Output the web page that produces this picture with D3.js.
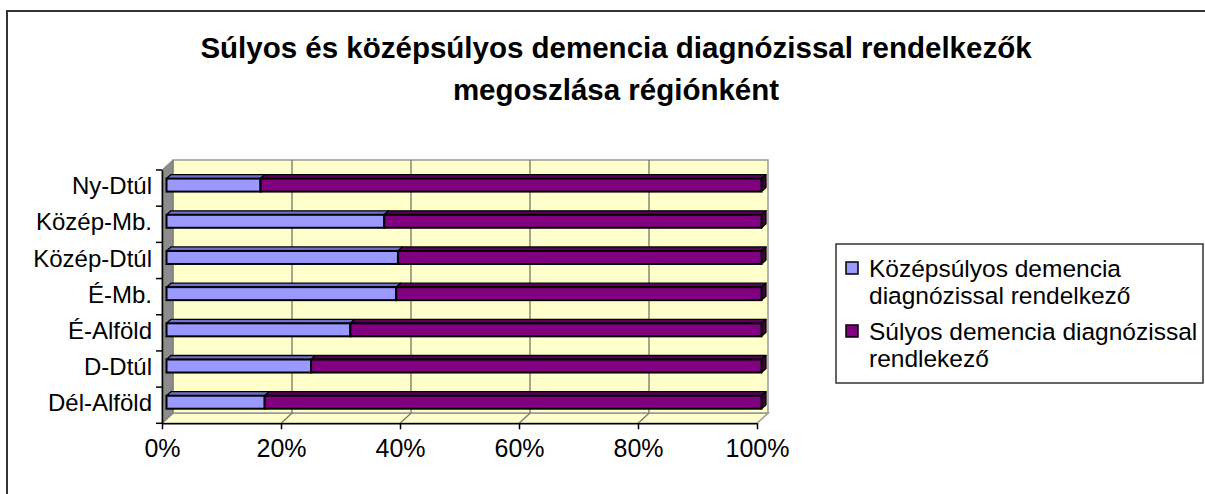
<!DOCTYPE html>
<html>
<meta charset="utf-8">
<title>Demencia régiónként</title>
<style>
body {
  margin: 0;
  background: #fff;
  font-family: "Liberation Sans", Arial, sans-serif;
}
</style>
<body>
<div id="chart"></div>
<script src="https://d3js.org/d3.v7.min.js"></script>
<script>

// data, bottom row first
var categories = ["Dél-Alföld", "D-Dtúl", "É-Alföld", "É-Mb.", "Közép-Dtúl", "Közép-Mb.", "Ny-Dtúl"];
var kozepsulyos = [16.5, 24.3, 30.9, 38.6, 38.9, 36.6, 15.8];
var sulyos = [83.5, 75.7, 69.1, 61.4, 61.1, 63.4, 84.2];
var seriesNames = ["Középsúlyos demencia diagnózissal rendelkező", "Súlyos demencia diagnózissal rendelkező"];
var legendLines = [["Középsúlyos demencia", "diagnózissal rendelkező"], ["Súlyos demencia diagnózissal", "rendlekező"]];
var xTicks = [0, 20, 40, 60, 80, 100];
var titleLines = ["Súlyos és középsúlyos demencia diagnózissal rendelkezők", "megoszlása régiónként"];

var width = 1205, height = 494;
var colors = ["#9999ff", "#800080"];
var tops = ["#6f6fd0", "#5a005a"];
var sides = ["#4d4d99", "#400040"];

var svg = d3.select("#chart").append("svg")
  .attr("width", width)
  .attr("height", height);

// outer frame
svg.append("rect")
  .attr("x", 7).attr("y", 11)
  .attr("width", 1210).attr("height", 500)
  .attr("fill", "none")
  .attr("stroke", "#333")
  .attr("stroke-width", 2);

// title
svg.append("g").selectAll("text")
  .data(titleLines)
  .enter().append("text")
  .attr("x", 616)
  .attr("y", function(d, i) { return 58 + i * 42; })
  .attr("text-anchor", "middle")
  .style("font-size", "29.5px")
  .style("font-weight", "bold")
  .text(function(d) { return d; });

// front plane scales
var x = d3.scaleLinear().domain([0, 100]).range([162, 757]);
var y = d3.scaleBand()
  .domain(categories.slice().reverse())
  .range([170, 423.3]);

var depth = {dx: 11, dy: -10};   // wall depth
var shift = {dx: 4.5, dy: -3};   // bar position inside depth
var bd = {dx: 4.5, dy: -4};      // bar thickness in depth
var barH = 13;

var y0 = y.range()[0], y1 = y.range()[1];
var x0 = x(0), x1 = x(100);

function poly(pts) {
  return "M" + pts.map(function(p) { return p[0] + "," + p[1]; }).join("L") + "Z";
}

var walls = svg.append("g");

// back wall
walls.append("path")
  .attr("d", poly([[x0 + depth.dx, y0 + depth.dy], [x1 + depth.dx, y0 + depth.dy],
                   [x1 + depth.dx, y1 + depth.dy], [x0 + depth.dx, y1 + depth.dy]]))
  .attr("fill", "#ffffcc")
  .attr("stroke", "#999")
  .attr("stroke-width", 1.5);

// floor
walls.append("path")
  .attr("d", poly([[x0, y1], [x1, y1], [x1 + depth.dx, y1 + depth.dy], [x0 + depth.dx, y1 + depth.dy]]))
  .attr("fill", "#ffffcc")
  .attr("stroke", "#999")
  .attr("stroke-width", 1.5);

// gridlines on wall and floor
walls.selectAll(".grid")
  .data(xTicks.slice(1, -1))
  .enter().append("path")
  .attr("class", "grid")
  .attr("d", function(d) {
    return "M" + x(d) + "," + y1 + "L" + (x(d) + depth.dx) + "," + (y1 + depth.dy) +
      "L" + (x(d) + depth.dx) + "," + (y0 + depth.dy);
  })
  .attr("fill", "none")
  .attr("stroke", "#77776a")
  .attr("stroke-width", 1.3);

// left side wall
walls.append("path")
  .attr("d", poly([[x0, y0], [x0 + depth.dx, y0 + depth.dy], [x0 + depth.dx, y1 + depth.dy], [x0, y1]]))
  .attr("fill", "#8c8c8c")
  .attr("stroke", "#777")
  .attr("stroke-width", 1);

// stacked data
var rows = categories.map(function(c, i) {
  return {cat: c, segs: [[0, kozepsulyos[i]], [kozepsulyos[i], kozepsulyos[i] + sulyos[i]]]};
});

var bars = svg.append("g").selectAll(".row")
  .data(rows)
  .enter().append("g")
  .attr("class", "row");

bars.each(function(r) {
  var g = d3.select(this);
  var yt = y(r.cat) + y.bandwidth() / 2 - barH / 2 + shift.dy;
  r.segs.forEach(function(s, k) {
    var xa = x(s[0]) + shift.dx, xb = x(s[1]) + shift.dx;
    // top face
    g.append("path")
      .attr("d", poly([[xa, yt], [xb, yt], [xb + bd.dx, yt + bd.dy], [xa + bd.dx, yt + bd.dy]]))
      .attr("fill", tops[k])
      .attr("stroke", "#000")
      .attr("stroke-width", 1.3)
      .attr("stroke-linejoin", "round");
    // side face at the end of the bar
    if (k === r.segs.length - 1) {
      g.append("path")
        .attr("d", poly([[xb, yt], [xb + bd.dx, yt + bd.dy], [xb + bd.dx, yt + barH + bd.dy], [xb, yt + barH]]))
        .attr("fill", sides[k])
        .attr("stroke", "#000")
        .attr("stroke-width", 1.3)
        .attr("stroke-linejoin", "round");
    }
    // front face
    g.append("rect")
      .attr("x", xa)
      .attr("y", yt)
      .attr("width", xb - xa)
      .attr("height", barH)
      .attr("fill", colors[k])
      .attr("stroke", "#000")
      .attr("stroke-width", 2);
  });
});

// axes
var xAxis = svg.append("g")
  .attr("transform", "translate(0," + y1 + ")")
  .call(d3.axisBottom(x).tickValues(xTicks).tickSize(6).tickSizeOuter(0)
    .tickFormat(function(d) { return d + "%"; }));
xAxis.select(".domain").attr("stroke", "#000").attr("stroke-width", 1.5);
xAxis.selectAll(".tick line").attr("stroke", "#000").attr("stroke-width", 1.5);
xAxis.selectAll(".tick text")
  .attr("y", 16)
  .attr("fill", "#000")
  .style("font-size", "25px")
  .style("font-family", "'Liberation Sans', Arial, sans-serif");

var yAxis = svg.append("g")
  .attr("transform", "translate(" + x0 + ",0)")
  .call(d3.axisLeft(y).tickSize(0).tickSizeOuter(0));
yAxis.select(".domain").attr("stroke", "#000").attr("stroke-width", 1.5);
yAxis.selectAll(".tick text")
  .attr("x", -10)
  .attr("dy", "0.34em")
  .attr("transform", "translate(0,-2)")
  .attr("fill", "#000")
  .style("font-size", "24px")
  .style("font-family", "'Liberation Sans', Arial, sans-serif");

// category separator ticks
svg.append("g").selectAll("line")
  .data(categories.concat(["_end"]))
  .enter().append("line")
  .attr("x1", x0 - 6).attr("x2", x0)
  .attr("y1", function(d, i) { return y1 - i * y.step(); })
  .attr("y2", function(d, i) { return y1 - i * y.step(); })
  .attr("stroke", "#000")
  .attr("stroke-width", 1.5);

// legend
var legend = svg.append("g");
legend.append("rect")
  .attr("x", 836).attr("y", 244)
  .attr("width", 367).attr("height", 139)
  .attr("fill", "#fff")
  .attr("stroke", "#333")
  .attr("stroke-width", 1.5);

var item = legend.selectAll(".item")
  .data(seriesNames)
  .enter().append("g")
  .attr("class", "item")
  .attr("transform", function(d, i) { return "translate(846," + (262 + i * 63) + ")"; });

item.append("rect")
  .attr("width", 12).attr("height", 12)
  .attr("fill", function(d, i) { return colors[i]; })
  .attr("stroke", "#000")
  .attr("stroke-width", 1.5);

item.append("text")
  .attr("x", 23)
  .attr("y", 15)
  .style("font-size", "24.5px")
  .selectAll("tspan")
  .data(function(d, i) { return legendLines[i]; })
  .enter().append("tspan")
  .attr("x", 23)
  .attr("dy", function(d, j) { return j === 0 ? 0 : 27; })
  .text(function(d) { return d; });

</script>
</body>
</html>
